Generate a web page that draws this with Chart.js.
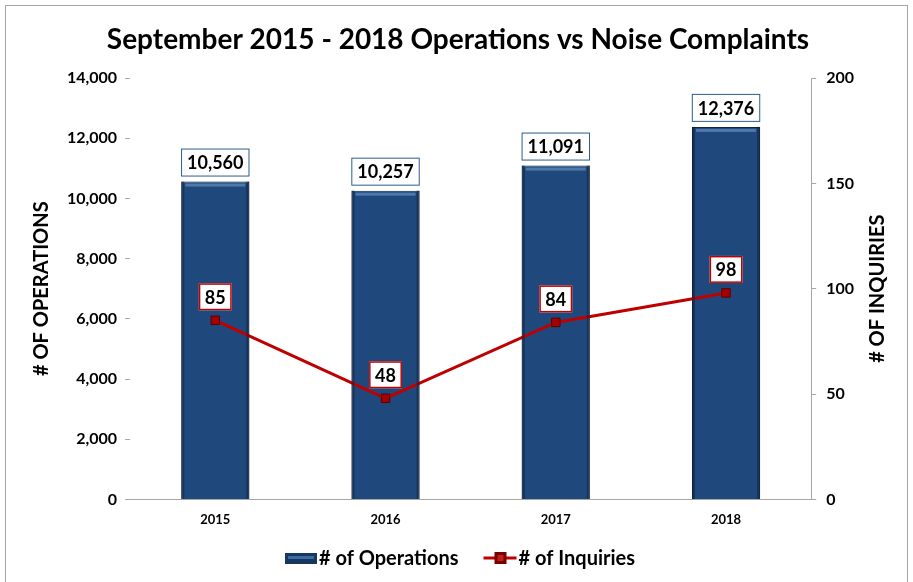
<!DOCTYPE html>
<html>
<head>
<meta charset="utf-8">
<script src="https://cdn.jsdelivr.net/npm/chart.js@4.4.0/dist/chart.umd.min.js"></script>
<style>
  html, body { margin: 0; padding: 0; background: #fff; }
  #wrap { width: 913px; height: 582px; position: relative; }
</style>
</head>
<body>
<div id="wrap"><canvas id="opsChart" width="913" height="582"></canvas></div>
<script>
// data
const years = ['2015', '2016', '2017', '2018'];
const operations = [10560, 10257, 11091, 12376];
const inquiries = [85, 48, 84, 98];

const FONT = 'Lato, "Open Sans", sans-serif';
const BAR_BLUE = '#1F497D';
const LINE_RED = '#C00000';
const TITLE = 'September 2015 - 2018 Operations vs Noise Complaints';
const Y_TITLE = '# OF OPERATIONS';
const Y1_TITLE = '# OF INQUIRIES';

function drawBarIcon(ctx, x, y) {
    ctx.fillStyle = '#17375E';
    ctx.fillRect(x, y - 5, 32, 11);
    ctx.fillStyle = '#3A6BA8';
    ctx.fillRect(x + 3, y - 2, 26, 3);
}

function drawLineIcon(ctx, x, y) {
    ctx.strokeStyle = LINE_RED;
    ctx.lineWidth = 3;
    ctx.beginPath(); ctx.moveTo(x, y); ctx.lineTo(x + 33, y); ctx.stroke();
    ctx.fillStyle = '#7A0000';
    ctx.fillRect(x + 11, y - 6, 12, 12);
    ctx.fillStyle = '#C0201A';
    ctx.fillRect(x + 14, y - 3, 6, 6);
}

// frame, title, axis titles, legend, bar bevel, data label boxes
const decor = {
    id: 'decor',
    beforeDraw(chart) {
        const ctx = chart.ctx;
        ctx.save();
        ctx.strokeStyle = '#A6A6A6';
        ctx.lineWidth = 1;
        ctx.strokeRect(5.5, 5.5, 902, 600);
        ctx.restore();
    },
    afterDraw(chart) {
        const ctx = chart.ctx;
        const area = chart.chartArea;
        const midY = (area.top + area.bottom) / 2;
        ctx.save();
        ctx.fillStyle = '#000';
        ctx.textAlign = 'center';
        ctx.textBaseline = 'middle';

        ctx.font = 'bold 28px ' + FONT;
        ctx.fillText(TITLE, 458, 40);

        ctx.font = 'bold 20px ' + FONT;
        [[42, Y_TITLE], [878, Y1_TITLE]].forEach(([x, t]) => {
            ctx.save();
            ctx.translate(x, midY);
            ctx.rotate(-Math.PI / 2);
            ctx.fillText(t, 0, 0);
            ctx.restore();
        });

        // legend
        const labels = chart.data.datasets.map(d => d.label);
        const w0 = ctx.measureText(labels[0]).width;
        const w1 = ctx.measureText(labels[1]).width;
        const total = 32 + 2 + w0 + 25 + 33 + 2 + w1;
        let x = 460 - total / 2;
        const ly = 558;
        ctx.textAlign = 'left';
        drawBarIcon(ctx, x, ly);
        x += 34;
        ctx.fillStyle = '#000';
        ctx.fillText(labels[0], x, ly + 1);
        x += w0 + 25;
        drawLineIcon(ctx, x, ly);
        x += 35;
        ctx.fillStyle = '#000';
        ctx.fillText(labels[1], x, ly + 1);
        ctx.restore();
    },
    afterDatasetsDraw(chart) {
        const ctx = chart.ctx;
        ctx.save();

        // bevel look on the bars
        chart.getDatasetMeta(0).data.forEach(bar => {
            const l = bar.x - bar.width / 2, r = bar.x + bar.width / 2;
            const t = bar.y, b = bar.base;
            ctx.fillStyle = 'rgba(10,25,50,0.45)';
            ctx.fillRect(l, t, 3, b - t);
            ctx.fillRect(r - 3, t, 3, b - t);
            ctx.fillStyle = 'rgba(120,160,210,0.55)';
            ctx.fillRect(l + 4, t + 2, r - l - 8, 3);
        });

        ctx.font = 'bold 18px ' + FONT;
        ctx.textAlign = 'center';
        ctx.textBaseline = 'middle';

        chart.getDatasetMeta(0).data.forEach((bar, i) => {
            const txt = operations[i].toLocaleString('en-US');
            const w = ctx.measureText(txt).width + 12, h = 28;
            const x = bar.x - w / 2, y = bar.y - 5 - h;
            ctx.fillStyle = '#fff';
            ctx.fillRect(x, y, w, h);
            ctx.strokeStyle = '#2E5C8A';
            ctx.lineWidth = 1;
            ctx.strokeRect(x + 0.5, y + 0.5, w - 1, h - 1);
            ctx.fillStyle = '#000';
            ctx.fillText(txt, bar.x, y + h / 2 + 1);
        });

        chart.getDatasetMeta(1).data.forEach((pt, i) => {
            const txt = String(inquiries[i]);
            const w = ctx.measureText(txt).width + 12, h = 27;
            const x = pt.x - w / 2, y = pt.y - 10 - h;
            ctx.fillStyle = '#fff';
            ctx.fillRect(x, y, w, h);
            ctx.strokeStyle = LINE_RED;
            ctx.lineWidth = 1.5;
            ctx.strokeRect(x + 0.75, y + 0.75, w - 1.5, h - 1.5);
            ctx.fillStyle = '#000';
            ctx.fillText(txt, pt.x, y + h / 2 + 1);
        });
        ctx.restore();
    }
};

new Chart(document.getElementById('opsChart'), {
    data: {
        labels: years,
        datasets: [
            {
                type: 'bar',
                label: '# of Operations',
                data: operations,
                yAxisID: 'y',
                backgroundColor: BAR_BLUE,
                borderColor: '#10263F',
                borderWidth: 1,
                barPercentage: 0.4,
                categoryPercentage: 1,
                order: 2
            },
            {
                type: 'line',
                label: '# of Inquiries',
                data: inquiries,
                yAxisID: 'y1',
                borderColor: LINE_RED,
                borderWidth: 3,
                tension: 0,
                pointStyle: 'rect',
                pointRadius: 6,
                pointBackgroundColor: '#A50000',
                pointBorderColor: '#5A0000',
                pointBorderWidth: 1,
                order: 1
            }
        ]
    },
    options: {
        responsive: false,
        animation: false,
        layout: { padding: { left: 59, right: 49, top: 78, bottom: 41 } },
        plugins: {
            tooltip: { enabled: false },
            title: { display: false },
            legend: { display: false }
        },
        scales: {
            x: {
                grid: { display: true, drawOnChartArea: false, drawTicks: false, color: '#A6A6A6' },
                border: { display: true, color: '#A6A6A6' },
                ticks: { color: '#000', font: { family: FONT, size: 13, weight: 'bold' }, padding: 13 }
            },
            y: {
                position: 'left',
                min: 0, max: 14000,
                grid: { drawOnChartArea: false, drawTicks: true, tickLength: 5, color: '#A6A6A6' },
                border: { display: false },
                ticks: {
                    stepSize: 2000,
                    color: '#000',
                    padding: 8,
                    font: { family: FONT, size: 16, weight: 'bold' },
                    callback: v => v.toLocaleString('en-US')
                }
            },
            y1: {
                position: 'right',
                min: 0, max: 200,
                grid: { drawOnChartArea: false, drawTicks: true, tickLength: 5, color: '#A6A6A6' },
                border: { display: true, color: '#A6A6A6' },
                ticks: {
                    stepSize: 50,
                    color: '#000',
                    padding: 10,
                    font: { family: FONT, size: 16, weight: 'bold' }
                }
            }
        }
    },
    plugins: [decor]
});
</script>
</body>
</html>
